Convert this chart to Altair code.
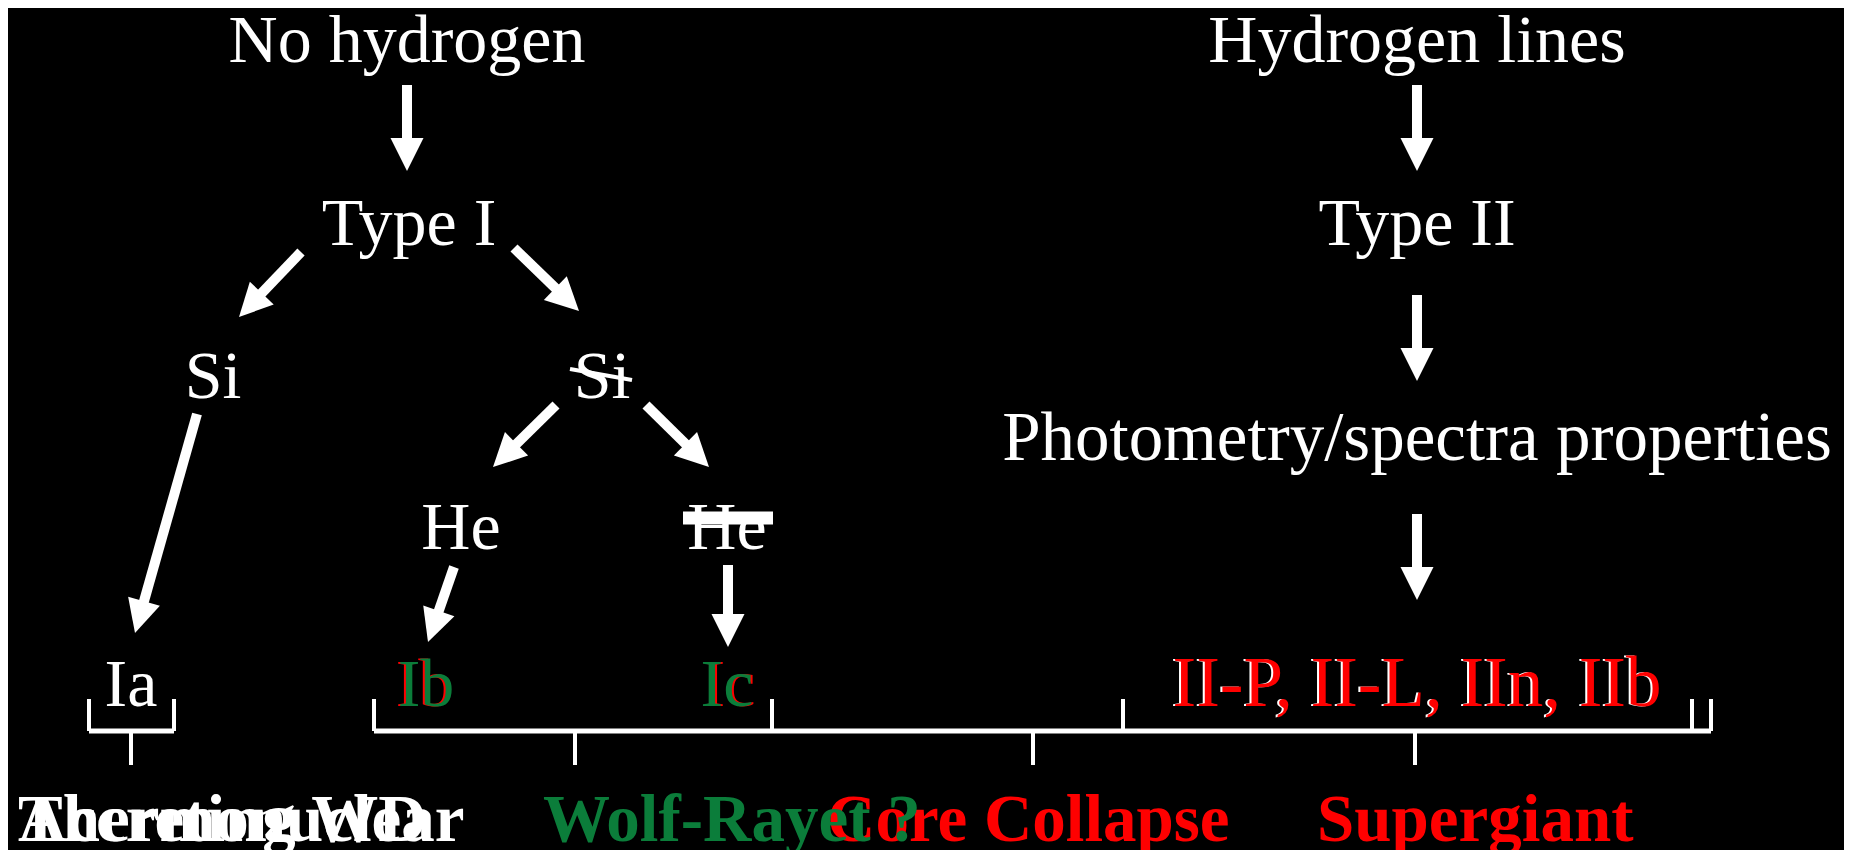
import math
import altair as alt
import pandas as pd

W, H, M = 1852, 858, 8
GREEN = "#0b7d3a"
RED = "#ff0000"
WHITE = "#ffffff"

# ---- regular labels (centre x, baseline y, font size) ----
txt_label = ["No hydrogen", "Type I", "Si", "Si", "He", "He", "Ia",
             "Ib", "Ib", "Ic", "Ic",
             "Hydrogen lines", "Type II", "Photometry/spectra properties",
             "II-P, II-L, IIn, IIb", "II-P, II-L, IIn, IIb"]
txt_x = [407, 409, 213, 602, 461, 727, 131,
         424, 426, 729, 727,
         1417, 1417, 1417,
         1415, 1417]
txt_y = [62, 245, 398, 398, 549, 549, 706,
         706, 706, 706, 706,
         62, 245, 460,
         706, 706]
txt_size = [68, 68, 68, 68, 68, 68, 68,
            68, 68, 68, 68,
            68, 68, 69,
            71, 71]
txt_color = [WHITE, WHITE, WHITE, WHITE, WHITE, WHITE, WHITE,
             RED, GREEN, RED, GREEN,
             WHITE, WHITE, WHITE,
             WHITE, RED]

# ---- bold bottom labels (left x, baseline y) ----
bold_label = ["Thermonuclear", "Accreting WD", "Core Collapse", "Wolf-Rayet ?", "Supergiant"]
bold_x = [18, 18, 827, 543, 1317]
bold_y = [841, 841, 841, 841, 841]
bold_color = [WHITE, WHITE, RED, GREEN, RED]

# ---- arrows (start -> tip) ----
arr_x0 = [407, 1417, 1417, 1417, 301, 514, 556, 646, 197, 454, 728]
arr_y0 = [85, 85, 295, 514, 252, 248, 405, 405, 414, 567, 565]
arr_x1 = [407, 1417, 1417, 1417, 239, 579, 493, 709, 135, 428, 728]
arr_y1 = [171, 171, 381, 600, 317, 311, 467, 467, 633, 642, 647]

# ---- bracket / strike segments ----
seg_x0 = [89, 174, 89, 131,
          374, 374, 772, 1123, 1692, 1711, 575, 1033, 1415,
          570, 683]
seg_y0 = [699, 699, 731, 731,
          731, 699, 699, 699, 699, 699, 731, 731, 731,
          369, 518]
seg_x1 = [89, 174, 174, 131,
          1711, 374, 772, 1123, 1692, 1711, 575, 1033, 1415,
          632, 773]
seg_y1 = [731, 731, 731, 765,
          731, 731, 731, 731, 731, 731, 765, 765, 765,
          380, 518]
seg_w = [4, 4, 5, 4,
         5, 4, 4, 4, 4, 4, 4, 4, 4,
         4, 13]

HEAD = 33

arrows = []
for x0, y0, x1, y1 in zip(arr_x0, arr_y0, arr_x1, arr_y1):
    dx, dy = x1 - x0, y1 - y0
    n = math.hypot(dx, dy)
    ux, uy = dx / n, dy / n
    arrows.append({
        "sx": x0, "sy": y0,
        "bx": x1 - ux * (HEAD - 2), "by": y1 - uy * (HEAD - 2),
        "hx": x1 - ux * HEAD / 2, "hy": y1 - uy * HEAD / 2,
        "ang": math.degrees(math.atan2(-dx, dy)) % 360,
    })
arr_df = pd.DataFrame(arrows)

txt_df = pd.DataFrame({"t": txt_label, "x": txt_x, "y": txt_y, "c": txt_color,
                       "s": txt_size, "o": list(range(len(txt_label)))})
bold_df = pd.DataFrame({"t": bold_label, "x": bold_x, "y": bold_y, "c": bold_color,
                        "o": list(range(len(bold_label)))})
seg_df = pd.DataFrame({"x": seg_x0, "y": seg_y0, "x2": seg_x1, "y2": seg_y1, "w": seg_w})

xs = alt.Scale(domain=[M, W - M], nice=False, zero=False)
ys = alt.Scale(domain=[M, H - M], nice=False, zero=False, reverse=True)

def X(f):
    return alt.X(f, type="quantitative", scale=xs, axis=None)

def Y(f):
    return alt.Y(f, type="quantitative", scale=ys, axis=None)

segs = alt.Chart(seg_df).mark_rule(color=WHITE, strokeCap="butt").encode(
    x=X("x"), y=Y("y"), x2="x2", y2="y2",
    strokeWidth=alt.StrokeWidth("w:Q", scale=None),
)

shafts = alt.Chart(arr_df).mark_rule(color=WHITE, strokeWidth=10, strokeCap="butt").encode(
    x=X("sx"), y=Y("sy"), x2="bx", y2="by",
)

heads = alt.Chart(arr_df).mark_point(
    shape="M-1,-1L1,-1L0,1Z", filled=True, fill=WHITE, strokeWidth=0,
    size=HEAD * HEAD, opacity=1,
).encode(
    x=X("hx"), y=Y("hy"),
    angle=alt.Angle("ang:Q", scale=None),
)

texts = alt.Chart(txt_df).mark_text(
    font="Liberation Serif", align="center", baseline="alphabetic",
).encode(
    x=X("x"), y=Y("y"), text="t:N",
    size=alt.Size("s:Q", scale=None),
    color=alt.Color("c:N", scale=None),
    order=alt.Order("o:Q"),
)

bold = alt.Chart(bold_df).mark_text(
    font="Liberation Serif", fontSize=67, fontWeight="bold", align="left", baseline="alphabetic",
).encode(
    x=X("x"), y=Y("y"), text="t:N",
    color=alt.Color("c:N", scale=None),
    order=alt.Order("o:Q"),
)

chart = alt.layer(segs, shafts, heads, texts, bold).properties(
    width=W - 2 * M, height=H - 2 * M, padding=0,
    autosize=alt.AutoSizeParams(type="none"),
).configure(background="black").configure_view(fill="black", strokeWidth=0)

chart.save("out.html", embed_options={"renderer": "svg", "actions": False})
